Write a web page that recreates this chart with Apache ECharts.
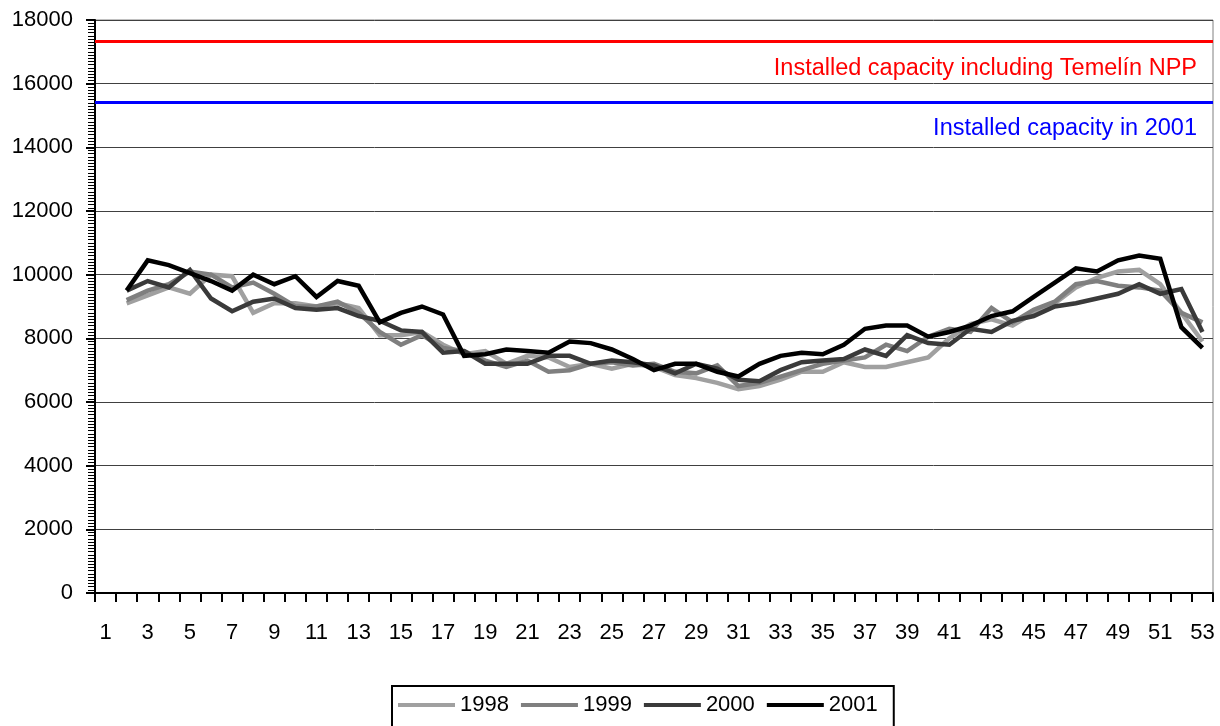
<!DOCTYPE html>
<html>
<head>
<meta charset="utf-8">
<script src="https://cdn.jsdelivr.net/npm/echarts@6/dist/echarts.min.js"></script>
<style>html,body{margin:0;padding:0;background:#fff}#c{width:1220px;height:726px}</style>
</head>
<body>
<div id="c"></div>
<script>
const weeks = Array.from({length: 53}, (_, i) => String(i + 1));
const seriesNames = ['1998', '1999', '2000', '2001'];
const y1998 = [null, 9100, 9350, 9600, 9400, 10000, 9950, 8800, 9100, 9100, 9000, 9100, 8950, 8100, 8100, 8200, 7800, 7500, 7600, 7200, 7450, 7400, 7100, 7200, 7050, 7200, 7100, 6850, 6750, 6600, 6400, 6500, 6700, 6950, 6950, 7250, 7100, 7100, 7250, 7400, 8000, 8450, 8600, 8400, 8800, 9100, 9600, 9900, 10100, 10150, 9700, 8800, 7900];
const y1999 = [null, 9200, 9500, 9700, 10100, 10000, 9600, 9750, 9400, 9000, 9000, 9150, 8800, 8200, 7800, 8100, 7700, 7600, 7300, 7100, 7300, 6950, 7000, 7200, 7250, 7150, 7200, 6950, 6900, 7150, 6500, 6600, 6800, 7000, 7200, 7300, 7400, 7800, 7600, 8050, 8300, 8200, 8950, 8500, 8900, 9150, 9700, 9800, 9650, 9600, 9500, 8800, 8500];
const y2000 = [null, 9500, 9800, 9600, 10150, 9250, 8850, 9150, 9250, 8950, 8900, 8950, 8700, 8550, 8250, 8200, 7550, 7600, 7200, 7200, 7200, 7450, 7450, 7200, 7300, 7250, 7150, 6900, 7200, 7050, 6700, 6650, 7000, 7250, 7300, 7350, 7650, 7450, 8100, 7850, 7800, 8300, 8200, 8550, 8700, 9000, 9100, 9250, 9400, 9700, 9400, 9550, 8200];
const y2001 = [null, 9500, 10450, 10300, 10050, 9800, 9500, 10000, 9700, 9950, 9300, 9800, 9650, 8500, 8800, 9000, 8750, 7450, 7500, 7650, 7600, 7550, 7900, 7850, 7650, 7350, 7000, 7200, 7200, 6950, 6800, 7200, 7450, 7550, 7500, 7800, 8300, 8400, 8400, 8050, 8200, 8400, 8700, 8850, 9300, 9750, 10200, 10100, 10450, 10600, 10500, 8350, 7700];
const capacityValues = [17330, 15430];
const capacityLabels = ['Installed capacity including Temelín NPP', 'Installed capacity in 2001'];
const yTicks = [0, 2000, 4000, 6000, 8000, 10000, 12000, 14000, 16000, 18000];

const colors = ['#a0a0a0', '#7f7f7f', '#3a3a3a', '#000000'];
const dataSets = [y1998, y1999, y2000, y2001];
const font = '"Liberation Sans", Arial, sans-serif';

const series = dataSets.map((d, i) => ({
  name: seriesNames[i],
  type: 'line',
  data: d,
  symbol: 'none',
  lineStyle: {width: 4.5, color: colors[i], join: 'miter'},
  itemStyle: {color: colors[i]},
  z: 3 + i,
  animation: false
}));
series.push({
  name: 'cap',
  type: 'line',
  data: [],
  silent: true,
  markLine: {
    symbol: 'none',
    silent: true,
    animation: false,
    data: capacityValues.map((v, i) => ({
      yAxis: v,
      lineStyle: {color: i === 0 ? '#ff0000' : '#0000ff', width: 3, type: 'solid'},
      label: {
        show: true,
        position: 'insideEndBottom',
        formatter: capacityLabels[i],
        color: i === 0 ? '#ff0000' : '#0000ff',
        fontFamily: font,
        fontSize: 23.5,
        distance: [16, 15]
      }
    }))
  }
});

const chart = echarts.init(document.getElementById('c'), null, {renderer: 'canvas'});
chart.setOption({
  animation: false,
  backgroundColor: '#fff',
  grid: {left: 95, right: 7, top: 20, bottom: 133, show: true, borderColor: '#808080', borderWidth: 1, containLabel: false},
  legend: {
    data: seriesNames,
    left: 392, top: 686,
    borderColor: '#000', borderWidth: 2,
    padding: [8, 16, 20, 6],
    itemGap: 12,
    itemWidth: 57, itemHeight: 4,
    icon: 'rect',
    textStyle: {fontFamily: font, fontSize: 22, color: '#000'}
  },
  xAxis: {
    type: 'category',
    data: weeks,
    boundaryGap: true,
    axisLine: {lineStyle: {color: '#000', width: 2}},
    axisTick: {show: true, interval: 0, length: 9, inside: false, lineStyle: {color: '#000', width: 2}},
    axisLabel: {interval: 1, color: '#000', fontFamily: font, fontSize: 22, margin: 29},
    splitLine: {show: false}
  },
  yAxis: {
    type: 'value',
    min: yTicks[0], max: yTicks[yTicks.length - 1], interval: 2000,
    axisLine: {show: true, lineStyle: {color: '#000', width: 2}},
    axisTick: {show: true, length: 9, lineStyle: {color: '#000', width: 2}},
    minorTick: {show: true, splitNumber: 20, length: 7, lineStyle: {color: '#000', width: 1}},
    axisLabel: {color: '#000', fontFamily: font, fontSize: 22, margin: 22, formatter: v => String(v)},
    splitLine: {show: true, lineStyle: {color: '#404040', width: 1}}
  },
  series: series
});
</script>
</body>
</html>
